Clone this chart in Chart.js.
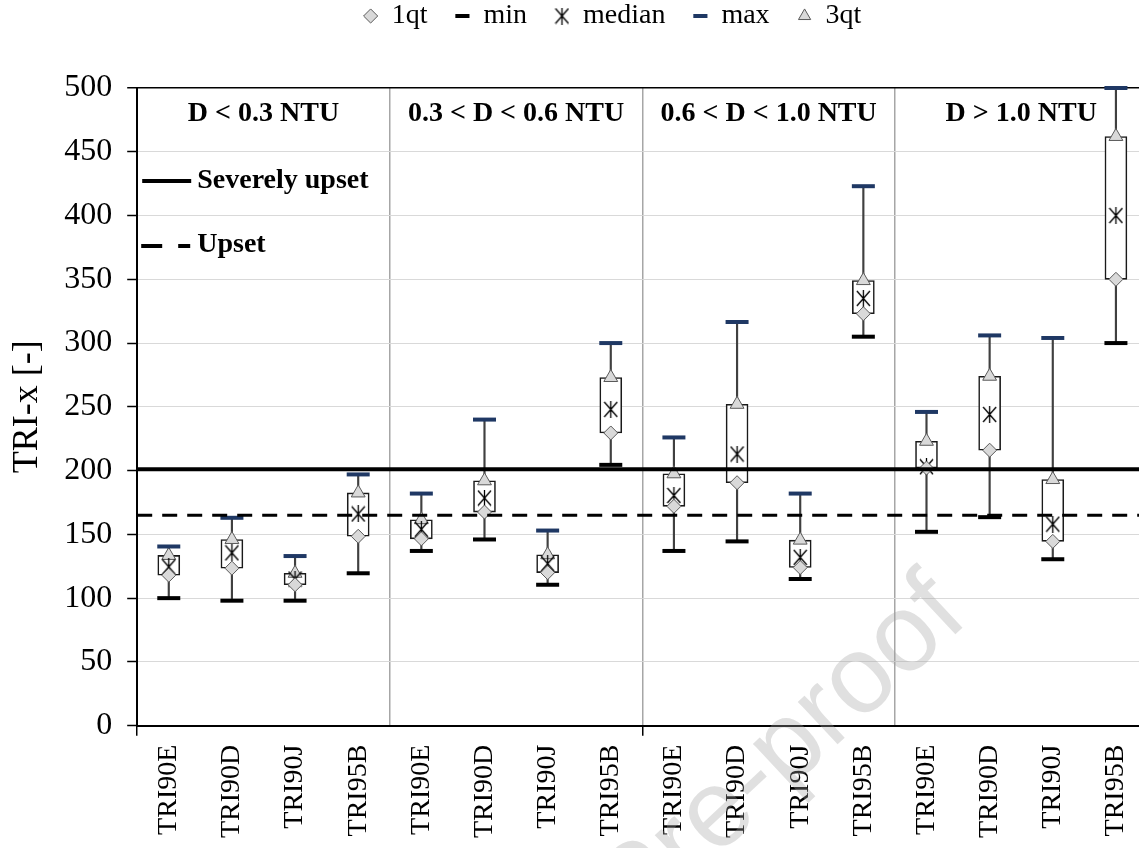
<!DOCTYPE html>
<html>
<head>
<meta charset="utf-8">
<script src="https://cdn.jsdelivr.net/npm/chart.js@4.4.1/dist/chart.umd.min.js"></script>
<style>
  html, body { margin: 0; padding: 0; background: #fff; overflow: hidden; }
  #wrap { position: relative; width: 1163px; height: 848px; }
</style>
</head>
<body>
<div id="wrap"><canvas id="boxchart"></canvas></div>
<script>
// categories: four turbidity classes, four samplers in each
var labels = [
    'TRI90E', 'TRI90D', 'TRI90J', 'TRI95B',
    'TRI90E', 'TRI90D', 'TRI90J', 'TRI95B',
    'TRI90E', 'TRI90D', 'TRI90J', 'TRI95B',
    'TRI90E', 'TRI90D', 'TRI90J', 'TRI95B'
];
var groups = ['D < 0.3 NTU', '0.3 < D < 0.6 NTU', '0.6 < D < 1.0 NTU', 'D > 1.0 NTU'];

var minVals    = [100, 98, 98, 119.5,   137, 146, 110.5, 204.5,   137, 144.5, 115, 305,   152, 163.5, 130.5, 300];
var q1Vals     = [118, 123.5, 110.5, 148.5,   146.5, 167.5, 120, 229.5,   172, 190.5, 124, 323,   202, 216, 144.5, 350];
var medianVals = [124.5, 135.5, 115, 166,   154, 178.5, 127, 248,   180.5, 213, 132, 335,   203, 244, 158, 400];
var q3Vals     = [133.5, 146, 119.5, 182.5,   161.5, 192, 134, 273,   197.5, 252, 145.5, 349,   223, 274, 193, 462];
var maxVals    = [140.5, 163, 133, 197,   182, 240, 153, 300,   226, 316.5, 182, 423,   246, 306, 304, 500];

var severeLimit = 201;
var upsetLimit = 165;
var yMax = 500;
var yStep = 50;

var serif = "'Times New Roman', 'Liberation Serif', serif";
var legendSeries = ['1qt', 'min', 'median', 'max', '3qt'];

// star marker: X with a vertical stroke
function makeMedianMarker() {
    var c = document.createElement('canvas');
    c.width = 15;
    c.height = 17;
    var g = c.getContext('2d');
    g.strokeStyle = '#000';
    g.lineWidth = 1.3;
    g.beginPath();
    g.moveTo(1, 1); g.lineTo(14, 16);
    g.moveTo(14, 1); g.lineTo(1, 16);
    g.moveTo(7.5, 0); g.lineTo(7.5, 17);
    g.stroke();
    return c;
}
var medianMarker = makeMedianMarker();

var overlay = {
    id: 'overlay',
    beforeUpdate: function (chart) {
        // leave a gap between the top legend and the plot
        var lg = chart.legend;
        if (lg && !lg._spaced) {
            var fit = lg.fit;
            lg.fit = function () {
                fit.call(this);
                this.height += 48;
            };
            lg._spaced = true;
        }
    },
    afterLayout: function (chart) {
        if (chart.legend) {
            chart.legend.left += 31;
            chart.legend.right += 31;
        }
    },
    afterDatasetsDraw: function (chart) {
        var ctx = chart.ctx, area = chart.chartArea;
        var xs = chart.scales.x, ys = chart.scales.y;
        ctx.save();
        ctx.strokeStyle = '#000';

        // threshold lines
        var y1 = ys.getPixelForValue(severeLimit);
        ctx.lineWidth = 4;
        ctx.beginPath(); ctx.moveTo(area.left, y1); ctx.lineTo(area.right, y1); ctx.stroke();
        var y2 = ys.getPixelForValue(upsetLimit);
        ctx.lineWidth = 3;
        ctx.setLineDash([15, 10]);
        ctx.beginPath(); ctx.moveTo(area.left, y2); ctx.lineTo(area.right, y2); ctx.stroke();
        ctx.setLineDash([]);

        // group headings
        ctx.fillStyle = '#000';
        ctx.font = 'bold 28px ' + serif;
        ctx.textAlign = 'center';
        ctx.textBaseline = 'middle';
        groups.forEach(function (g, i) {
            var a = xs.getPixelForValue(i * 4), b = xs.getPixelForValue(i * 4 + 3);
            ctx.fillText(g, (a + b) / 2, area.top + 26);
        });

        // key for the threshold lines
        ctx.font = 'bold 28px ' + serif;
        ctx.textAlign = 'left';
        ctx.lineWidth = 4;
        ctx.beginPath(); ctx.moveTo(area.left + 5, 181); ctx.lineTo(area.left + 54, 181); ctx.stroke();
        ctx.fillText('Severely upset', area.left + 60, 181);
        ctx.setLineDash([21, 16]);
        ctx.beginPath(); ctx.moveTo(area.left + 4, 246); ctx.lineTo(area.left + 53, 246); ctx.stroke();
        ctx.setLineDash([]);
        ctx.fillText('Upset', area.left + 60, 245);
        ctx.restore();
    },
    afterDraw: function (chart) {
        var ctx = chart.ctx;
        ctx.save();
        ctx.translate(950, 598);
        ctx.rotate(-43 * Math.PI / 180);
        ctx.font = "110px 'Liberation Sans', Arial, sans-serif";
        ctx.fillStyle = 'rgba(160,160,160,0.33)';
        ctx.textAlign = 'right';
        ctx.fillText('Journal Pre-proof', 0, 0);
        ctx.restore();
    }
};

var chart = new Chart(document.getElementById('boxchart'), {
    type: 'bar',
    data: {
        labels: labels,
        datasets: [
            {
                type: 'line', label: '1qt', data: q1Vals, showLine: false, order: 0, clip: false,
                pointStyle: 'rectRot', pointRadius: 7, pointHoverRadius: 7,
                pointBackgroundColor: '#d9d9d9', pointBorderColor: '#595959', pointBorderWidth: 1,
                backgroundColor: '#d9d9d9', borderColor: '#595959'
            },
            {
                type: 'line', label: 'min', data: minVals, showLine: false, order: 1, clip: false,
                pointStyle: 'line', pointRadius: 11.5, pointHoverRadius: 11.5,
                pointBorderColor: '#000', pointBorderWidth: 4, borderColor: '#000'
            },
            {
                type: 'line', label: 'median', data: medianVals, showLine: false, order: 2, clip: false,
                pointStyle: medianMarker, pointRadius: 8, borderColor: '#000'
            },
            {
                type: 'line', label: 'max', data: maxVals, showLine: false, order: 3, clip: false,
                pointStyle: 'line', pointRadius: 11.5, pointHoverRadius: 11.5,
                pointBorderColor: '#1f3864', pointBorderWidth: 4, borderColor: '#1f3864'
            },
            {
                type: 'line', label: '3qt', data: q3Vals, showLine: false, order: 4, clip: false,
                pointStyle: 'triangle', pointRadius: 8, pointHoverRadius: 8,
                pointBackgroundColor: '#d9d9d9', pointBorderColor: '#595959', pointBorderWidth: 1,
                backgroundColor: '#d9d9d9', borderColor: '#595959'
            },
            {
                label: 'box', order: 10, grouped: false,
                data: q1Vals.map(function (v, i) { return [v, q3Vals[i]]; }),
                backgroundColor: '#fff', borderColor: '#1a1a1a', borderWidth: 1.6,
                borderSkipped: false, barThickness: 22
            },
            {
                label: 'whisker', order: 11, grouped: false,
                data: minVals.map(function (v, i) { return [v, maxVals[i]]; }),
                backgroundColor: '#404040', borderWidth: 0, barThickness: 1.5
            }
        ]
    },
    options: {
        responsive: true,
        maintainAspectRatio: false,
        animation: false,
        layout: { padding: { top: -26, bottom: 1, left: 0, right: 0 } },
        plugins: {
            tooltip: { enabled: false },
            legend: {
                position: 'top',
                labels: {
                    usePointStyle: true,
                    boxWidth: 14,
                    boxHeight: 10,
                    padding: 28,
                    color: '#000',
                    font: { family: serif, size: 28 },
                    filter: function (item) { return legendSeries.indexOf(item.text) >= 0; }
                }
            }
        },
        scales: {
            x: {
                offset: true,
                grid: {
                    offset: true,
                    color: function (c) {
                        return (c.index > 0 && c.index < labels.length && c.index % 4 === 0) ? '#a6a6a6' : 'rgba(0,0,0,0)';
                    },
                    lineWidth: 1.5,
                    tickLength: 10,
                    tickWidth: 1.5,
                    tickColor: function (c) {
                        return (c.index === 0 || c.index === 8) ? '#000' : 'rgba(0,0,0,0)';
                    }
                },
                border: { color: '#000', width: 2 },
                ticks: {
                    autoSkip: false,
                    minRotation: 90,
                    maxRotation: 90,
                    padding: 9,
                    color: '#000',
                    font: { family: serif, size: 28 }
                }
            },
            y: {
                min: 0,
                max: yMax,
                grid: {
                    color: function (c) {
                        return (c.tick && c.tick.value === yMax) ? '#000' : '#d9d9d9';
                    },
                    lineWidth: function (c) {
                        return (c.tick && c.tick.value === yMax) ? 1.5 : 1;
                    },
                    tickLength: 10,
                    tickWidth: 1.5,
                    tickColor: '#000'
                },
                border: { color: '#000', width: 2 },
                ticks: {
                    stepSize: yStep,
                    padding: 15,
                    color: '#000',
                    font: { family: serif, size: 32 }
                },
                title: {
                    display: true,
                    text: 'TRI-x [-]',
                    color: '#000',
                    font: { family: serif, size: 36 },
                    padding: { top: 6, bottom: 0 }
                }
            }
        }
    },
    plugins: [overlay]
});
</script>
</body>
</html>
